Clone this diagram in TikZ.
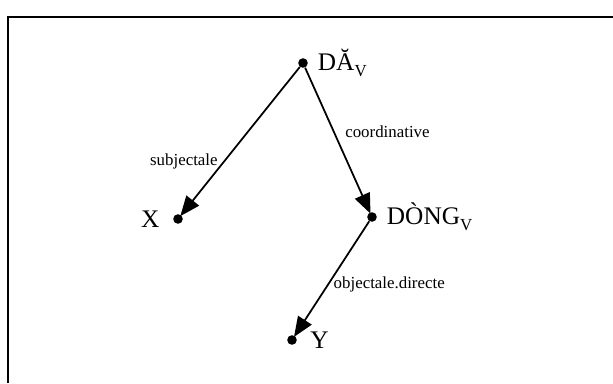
\documentclass[tikz,border=0pt]{standalone}
\usepackage{fontspec}
\setmainfont{Liberation Serif}
\usepackage{tikz}
\usetikzlibrary{arrows.meta}
\newcommand{\indV}{\raisebox{-0.22em}{\fontsize{12}{12}\selectfont V}}

\begin{document}
\begin{tikzpicture}[
  label distance=3.5pt,
  dot/.style={circle, fill=black, inner sep=0pt, minimum size=0.24cm},
  every label/.style={font=\fontsize{18}{21}\selectfont},
  dep/.style={-{Triangle[length=0.5cm, width=0.4cm]}, line width=1.25pt, shorten >=-1pt},
  rel/.style={font=\fontsize{12}{14}\selectfont, inner sep=2pt}
]
\useasboundingbox (0,0) rectangle (15.325,9.575);

% Cadru
\draw[line width=0.8pt] (0.2,0) -- (0.2,9.15) -- (15.325,9.15);

% Noduri
\node[dot, label=right:D\u{A}\indV] (da) at (7.575,8.0) {};
\node[dot, label={[label distance=6pt]left:X}] (x) at (4.45,4.1) {};
\node[dot, label=right:D\`ONG\indV] (dong) at (9.3,4.15) {};
\node[dot, label={[label distance=6pt]right:Y}] (y) at (7.3,1.075) {};

% Relatii
\draw[dep] (da) -- node[rel, pos=0.635, anchor=east, xshift=-0.08cm] (lsubj) {subjectale} (x);
\draw[dep] (da) -- node[rel, pos=0.44, anchor=west, xshift=0.2cm] (lcoord) {coordinative} (dong);
\draw[dep] (dong) -- node[rel, pos=0.553, anchor=west, xshift=0.05cm] (lobj) {objectale.directe} (y);

\end{tikzpicture}
\end{document}
